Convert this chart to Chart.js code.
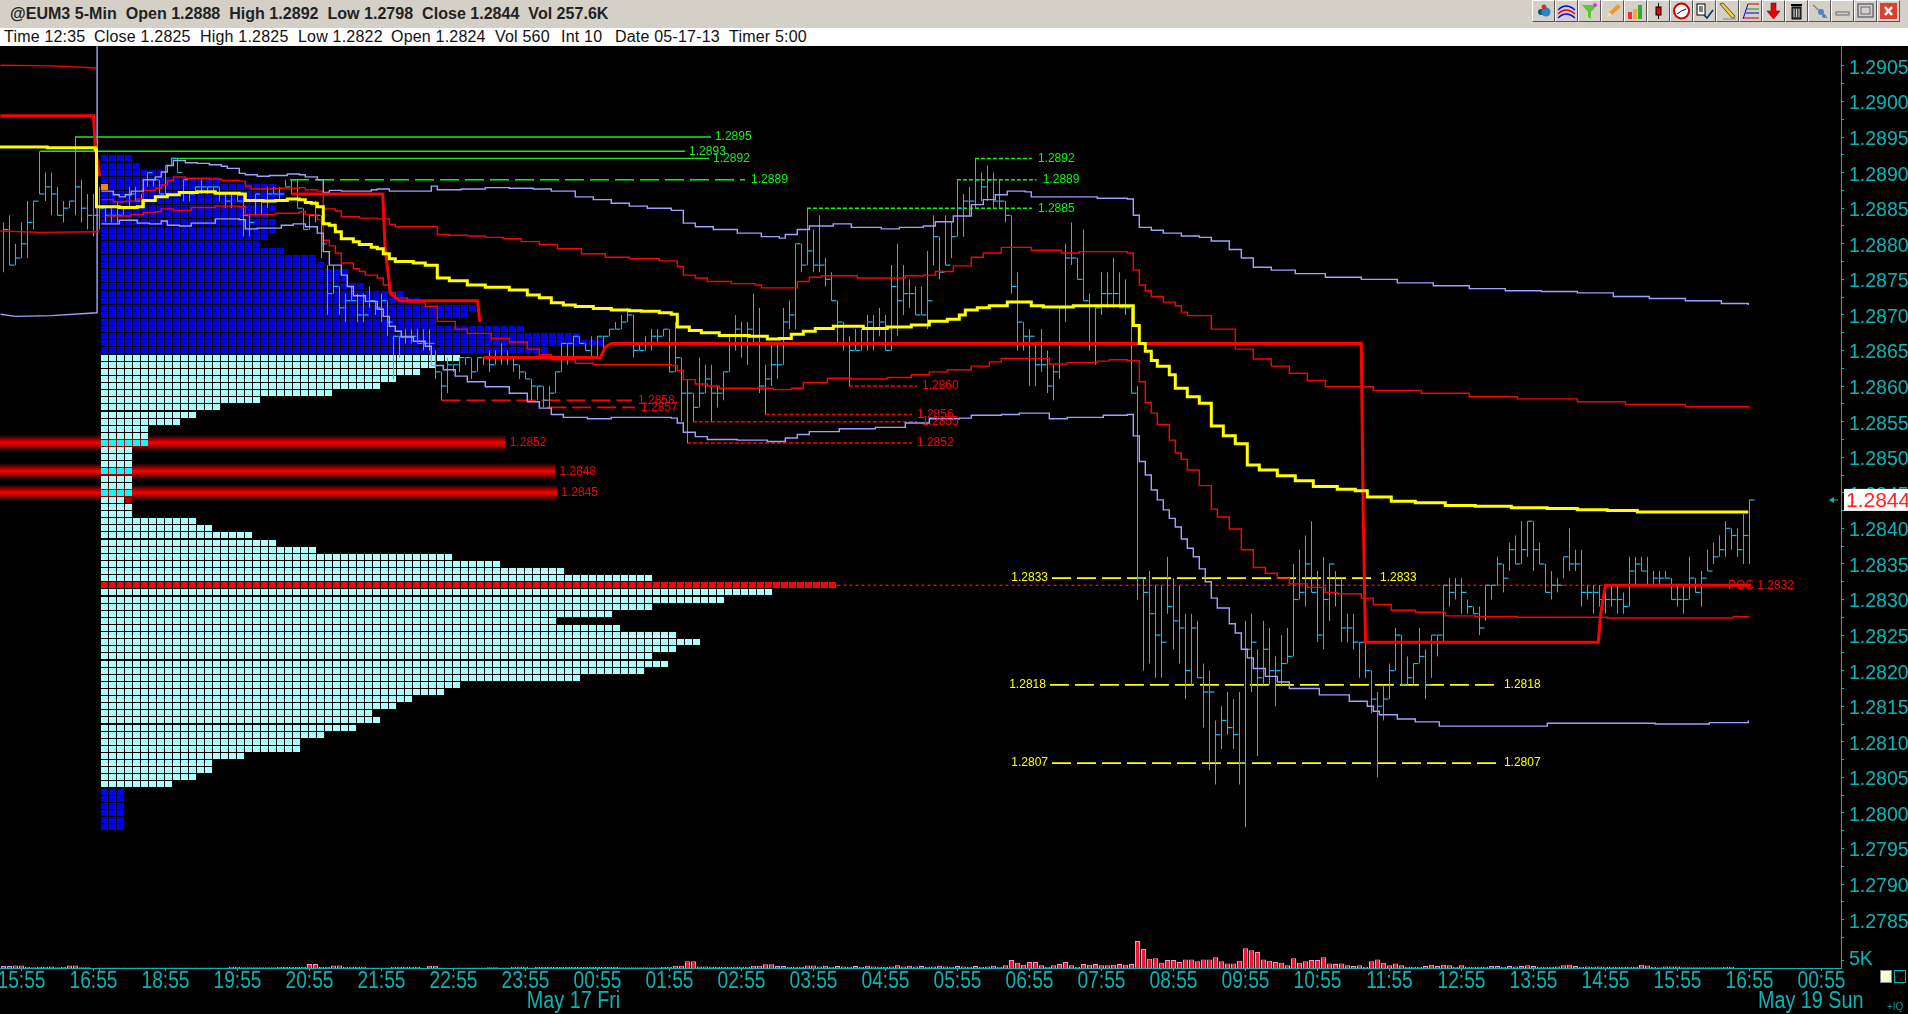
<!DOCTYPE html>
<html>
<head>
<meta charset="utf-8">
<title>@EUM3 5-Min</title>
<script src="https://cdn.jsdelivr.net/npm/chart.js@4"></script>
<style>
  html, body { margin: 0; padding: 0; background: #000; overflow: hidden; }
  #page { position: relative; width: 1908px; height: 1014px; background: #000; }
  #titlebar { position: absolute; left: 0; top: 0; width: 1908px; height: 28px; background: #d4d0c8;
    font: bold 17px "Liberation Sans", sans-serif; color: #222; line-height: 28px; }
  #titlebar .t { position: absolute; left: 10px; top: 0; white-space: pre; transform: scaleX(.945); transform-origin: left; }
  #infobar { position: absolute; left: 0; top: 28px; width: 1908px; height: 18px; background: #fff;
    font: 16px "Liberation Sans", sans-serif; color: #111; line-height: 18px; letter-spacing: .2px; }
  #infobar span { position: absolute; top: 0; white-space: pre; }
  #tools { position: absolute; left: 1532px; top: 0; display: flex; }
  #tools div { width: 21px; height: 20px; margin-right: 0; border: 1px solid; border-color: #fff #555 #555 #fff; background: #d4d0c8; }
  #tools svg { display: block; width: 21px; height: 20px; }
  #priceBox { position: absolute; left: 0; top: 46px; }
  #volBox { position: absolute; left: 0; top: 941px; }
  #boxA { position: absolute; left: 1880px; top: 970px; width: 10px; height: 11px; background: #fffbd0; border: 1px solid #888; }
  #boxB { position: absolute; left: 1894px; top: 970px; width: 10px; height: 11px; border: 1px solid #0bb4b4; }
  #iq { position: absolute; left: 1887px; top: 1001px; font: 10px "Liberation Sans", sans-serif; color: #0a9a9a; }
</style>
</head>
<body>
<div id="page">
  <div id="titlebar"><div class="t">@EUM3 5-Min  Open 1.2888  High 1.2892  Low 1.2798  Close 1.2844  Vol 257.6K</div><div id="tools"></div></div>
  <div id="infobar">
    <span style="left:4px">Time 12:35</span><span style="left:94px">Close 1.2825</span><span style="left:200px">High 1.2825</span>
    <span style="left:298px">Low 1.2822</span><span style="left:391px">Open 1.2824</span><span style="left:495px">Vol 560</span>
    <span style="left:561px">Int 10</span><span style="left:615px">Date 05-17-13</span><span style="left:729px">Timer 5:00</span>
  </div>
  <div id="priceBox"><canvas id="priceChart" width="1908" height="895"></canvas></div>
  <div id="volBox"><canvas id="volChart" width="1908" height="73"></canvas></div>
  <div id="boxA"></div><div id="boxB"></div><div id="iq">+IQ</div>
</div>
<script>
// axis labels
const priceLabels = ['1.2905','1.2900','1.2895','1.2890','1.2885','1.2880','1.2875','1.2870','1.2865','1.2860','1.2855','1.2850',
  '1.2845','1.2840','1.2835','1.2830','1.2825','1.2820','1.2815','1.2810','1.2805','1.2800','1.2795','1.2790','1.2785'];
const tickBars = [0,12,13,24,36,48,60,72,84,96,108,120,132,144,156,168,180,192,204,216,228,240,252,264,276,288,300];
const timeLabels = ['15:55','16:55','','18:55','19:55','20:55','21:55','22:55','23:55','00:55','01:55','02:55','03:55','04:55','05:55',
  '06:55','07:55','08:55','09:55','10:55','11:55','12:55','13:55','14:55','15:55','16:55','00:55'];
const dateLabels = [[92,'May 17 Fri'],[298.2,'May 19 Sun']];

// 5-min bars, first bar is number -3 (15:55 is bar 0)
const firstBar = -3;
const highs = [
1.2883,1.2884,1.2880,1.2883,1.2886,1.2886,1.2893,1.2890,1.2890,1.2888,1.2886,1.2886,1.2895,1.2889,1.2887,1.2887,1.2888,
1.2885,1.2885,1.2886,1.2885,1.2888,1.2888,1.2887,1.2890,1.2889,1.2889,1.2891,1.2892,1.2892,1.2889,1.2887,1.2888,1.2889,1.2888,1.2888,1.2888,
1.2887,1.2887,1.2887,1.2887,1.2884,1.2887,1.2886,1.2888,1.2888,1.2888,1.2889,1.2889,1.2889,1.2885,1.2884,1.2886,
1.2884,1.2877,1.2877,1.2874,1.2873,1.2874,1.2873,1.2873,1.2874,1.2872,
1.2873,1.2872,1.2867,1.2867,1.2868,1.2868,1.2868,1.2868,1.2868,1.2865,1.2862,1.2864,1.2863,1.2864,1.2864,1.2864,1.2864,1.2864,
1.2865,1.2865,1.2866,1.2865,1.2864,1.2863,1.2862,1.2861,1.2860,1.2860,1.2860,1.2862,1.2866,1.2866,1.2867,1.2867,1.2866,1.2867,1.2867,1.2867,
1.2868,1.2869,1.2870,1.2871,1.2870,1.2866,1.2867,1.2868,1.2868,1.2868,1.2868,1.2869,1.2864,1.2861,1.2859,1.2864,
1.2863,1.2863,1.2860,1.2862,1.2867,1.2870,1.2869,1.2869,1.2873,1.2871,1.2863,1.2866,1.2866,1.2871,1.2872,1.2880,1.2880,1.2885,1.2882,1.2884,
1.2878,1.2876,1.2872,1.2869,1.2867,1.2868,1.2868,1.2870,1.2870,1.2871,1.2870,1.2877,1.2880,1.2877,1.2875,1.2874,1.2874,1.2879,1.2884,1.2881,
1.2884,1.2883,1.2889,1.2887,1.2888,1.2892,1.2890,1.2891,1.2890,1.2889,1.2886,1.2884,1.2876,1.2869,1.2868,1.2866,1.2868,1.2865,1.2863,1.2871,
1.2880,1.2883,1.2878,1.2882,1.2873,1.2871,1.2876,1.2876,1.2878,1.2876,1.2875,1.2871,1.2860,
1.2833,1.2834,1.2832,1.2832,1.2836,1.2833,1.2832,1.2828,1.2828,1.2827,1.2821,1.2820,1.2813,1.2815,1.2817,1.2816,1.2817,1.2827,1.2828,1.2823,
1.2827,1.2826,1.2822,1.2825,1.2826,1.2835,1.2837,1.2839,1.2841,1.2834,1.2836,1.2835,1.2834,1.2833,1.2828,1.2828,1.2824,1.2824,1.2820,1.2817,
1.2818,1.2821,1.2826,1.2825,1.2822,1.2821,1.2826,1.2823,1.2825,1.2825,
1.2832,1.2833,1.2833,1.2833,1.2830,1.2829,1.2829,1.2832,1.2832,1.2836,1.2835,1.2838,1.2839,1.2841,1.2841,1.2841,1.2838,1.2835,1.2834,1.2833,
1.2836,1.2840,1.2837,1.2837,1.2832,1.2832,1.2832,1.2832,1.2832,1.2832,1.2831,1.2836,1.2836,1.2836,1.2836,1.2834,1.2834,1.2834,1.2833,1.2832,
1.2832,1.2836,1.2833,1.2834,1.2837,1.2838,1.2839,1.2841,1.2840,1.2840,1.2842,1.2844];
const lows = [
1.2876,1.2877,1.2877,1.2878,1.2878,1.2882,1.2887,1.2886,1.2884,1.2884,1.2883,1.2885,1.2884,1.2883,1.2882,1.2881,1.2882,
1.2883,1.2883,1.2883,1.2884,1.2885,1.2886,1.2885,1.2888,1.2888,1.2887,1.2887,1.2891,1.2890,1.2886,1.2886,1.2887,1.2887,1.2887,1.2887,1.2886,
1.2885,1.2885,1.2886,1.2881,1.2881,1.2884,1.2884,1.2885,1.2887,1.2886,1.2888,1.2887,1.2885,1.2882,1.2882,1.2883,
1.2878,1.2870,1.2873,1.2870,1.2869,1.2872,1.2869,1.2869,1.2871,1.2870,
1.2869,1.2867,1.2861,1.2864,1.2866,1.2866,1.2866,1.2865,1.2865,1.2861,1.2858,1.2859,1.2862,1.2862,1.2863,1.2861,1.2862,1.2863,
1.2862,1.2863,1.2863,1.2863,1.2862,1.2861,1.2861,1.2858,1.2858,1.2857,1.2857,1.2859,1.2862,1.2863,1.2864,1.2866,1.2865,1.2864,1.2864,
1.2865,1.2867,1.2868,1.2868,1.2869,1.2864,1.2865,1.2865,1.2865,1.2866,1.2867,1.2862,1.2862,1.2855,1.2852,1.2855,1.2857,
1.2859,1.2855,1.2857,1.2858,1.2862,1.2865,1.2864,1.2863,1.2866,1.2859,1.2856,1.2860,1.2861,1.2863,1.2868,1.2868,1.2876,1.2877,1.2876,1.2876,
1.2874,1.2872,1.2866,1.2865,1.2860,1.2865,1.2865,1.2865,1.2865,1.2867,1.2865,1.2865,1.2867,1.2870,1.2871,1.2870,1.2870,1.2868,1.2877,1.2875,
1.2877,1.2878,1.2881,1.2881,1.2884,1.2885,1.2886,1.2886,1.2885,1.2885,1.2883,1.2873,1.2865,1.2865,1.2860,1.2860,1.2862,1.2859,1.2858,1.2861,
1.2869,1.2877,1.2875,1.2872,1.2865,1.2863,1.2870,1.2871,1.2871,1.2871,1.2870,1.2859,1.2830,
1.2820,1.2821,1.2819,1.2819,1.2828,1.2823,1.2821,1.2816,1.2818,1.2819,1.2812,1.2806,1.2804,1.2809,1.2811,1.2809,1.2804,1.2798,1.2817,1.2808,
1.2818,1.2818,1.2815,1.2818,1.2821,1.2822,1.2830,1.2829,1.2831,1.2824,1.2823,1.2827,1.2829,1.2824,1.2824,1.2823,1.2819,1.2819,1.2814,1.2805,
1.2813,1.2816,1.2820,1.2818,1.2818,1.2818,1.2821,1.2816,1.2819,1.2822,
1.2824,1.2829,1.2830,1.2828,1.2828,1.2828,1.2825,1.2827,1.2830,1.2832,1.2831,1.2834,1.2835,1.2835,1.2836,1.2834,1.2835,1.2831,1.2830,1.2831,
1.2833,1.2834,1.2834,1.2829,1.2830,1.2828,1.2829,1.2828,1.2829,1.2828,1.2828,1.2829,1.2832,1.2834,1.2832,1.2832,1.2832,1.2833,1.2830,1.2829,
1.2828,1.2830,1.2831,1.2829,1.2834,1.2835,1.2836,1.2836,1.2837,1.2836,1.2835,1.2835];
const closes = [
1.2882,1.2877,1.2878,1.2880,1.2883,1.2886,1.2887,1.2888,1.2887,1.2884,1.2885,1.2886,1.2888,1.2885,1.2884,1.2884,1.2885,
1.2884,1.2884,1.2884,1.2885,1.2887,1.2886,1.2886,1.2890,1.2889,1.2887,1.2891,1.2892,1.2890,1.2889,1.2887,1.2888,1.2888,1.2888,1.2888,1.2887,
1.2886,1.2887,1.2886,1.2884,1.2883,1.2887,1.2886,1.2887,1.2887,1.2887,1.2888,1.2889,1.2885,1.2882,1.2884,1.2884,
1.2880,1.2873,1.2874,1.2871,1.2872,1.2872,1.2870,1.2870,1.2872,1.2871,
1.2872,1.2869,1.2867,1.2867,1.2867,1.2867,1.2866,1.2866,1.2866,1.2862,1.2860,1.2863,1.2863,1.2864,1.2864,1.2862,1.2864,1.2864,
1.2863,1.2864,1.2864,1.2864,1.2863,1.2862,1.2861,1.2860,1.2860,1.2858,1.2859,1.2862,1.2866,1.2866,1.2867,1.2866,1.2865,1.2864,1.2867,
1.2867,1.2868,1.2868,1.2869,1.2870,1.2865,1.2865,1.2866,1.2867,1.2867,1.2868,1.2862,1.2864,1.2859,1.2859,1.2857,1.2859,
1.2861,1.2859,1.2859,1.2862,1.2866,1.2868,1.2867,1.2868,1.2867,1.2860,1.2861,1.2863,1.2863,1.2869,1.2870,1.2880,1.2877,1.2879,1.2877,1.2877,
1.2875,1.2872,1.2869,1.2866,1.2865,1.2865,1.2866,1.2869,1.2868,1.2869,1.2865,1.2874,1.2872,1.2873,1.2873,1.2870,1.2870,1.2872,1.2881,1.2876,
1.2877,1.2881,1.2885,1.2886,1.2886,1.2889,1.2888,1.2889,1.2886,1.2886,1.2884,1.2874,1.2869,1.2867,1.2867,1.2863,1.2863,1.2860,1.2862,1.2871,
1.2878,1.2878,1.2875,1.2872,1.2866,1.2871,1.2873,1.2873,1.2873,1.2871,1.2871,1.2859,1.2833,
1.2831,1.2828,1.2825,1.2824,1.2829,1.2827,1.2826,1.2820,1.2826,1.2819,1.2817,1.2817,1.2811,1.2813,1.2812,1.2811,1.2807,1.2823,1.2824,1.2819,
1.2823,1.2820,1.2820,1.2821,1.2822,1.2830,1.2831,1.2835,1.2831,1.2825,1.2830,1.2835,1.2832,1.2826,1.2826,1.2824,1.2824,1.2820,1.2816,1.2815,
1.2816,1.2820,1.2825,1.2818,1.2819,1.2821,1.2822,1.2818,1.2825,1.2825,
1.2832,1.2831,1.2832,1.2831,1.2829,1.2828,1.2826,1.2832,1.2832,1.2835,1.2833,1.2837,1.2835,1.2837,1.2841,1.2837,1.2835,1.2831,1.2832,1.2832,
1.2836,1.2835,1.2835,1.2831,1.2831,1.2831,1.2830,1.2830,1.2830,1.2830,1.2829,1.2834,1.2835,1.2834,1.2832,1.2833,1.2833,1.2833,1.2830,1.2830,
1.2830,1.2833,1.2831,1.2833,1.2834,1.2836,1.2837,1.2840,1.2839,1.2837,1.2839,1.2844];

// volume per bar, same bar numbering
const volumes = [
1200,1200,1600,1600,800,400,800,800,1000,400,600,1600,1600,400,400,200,
300,300,300,300,300,300,300,300,300,300,300,300,300,300,300,300,300,300,300,300,300,300,
800,800,400,400,400,400,400,400,600,600,600,600,600,2500,2500,600,600,1600,1600,800,800,800,800,300,300,300,300,
800,800,800,800,800,200,1400,1400,300,200,200,300,300,300,300,300,400,400,300,300,800,800,800,300,600,600,600,600,600,600,
600,600,600,600,600,600,600,600,500,500,500,500,500,500,500,600,600,1400,1400,4200,4200,1000,1000,800,800,600,800,800,800,800,1400,1400,
2300,2300,1200,1200,800,800,800,1600,1600,1000,1400,800,1200,1000,800,1200,800,1400,1000,800,600,1000,1800,1000,1400,1000,1200,800,1000,1400,1000,800,1200,
1000,800,1200,800,1000,1400,800,
1700,5000,3300,2100,3700,3700,1700,800,1700,2500,3700,1700,800,2500,2100,2500,1700,1700,2100,2500,2100,2500,
17000,12000,5800,6200,3300,5000,5000,3700,5400,5400,4200,5400,5400,6700,4200,2900,2900,4600,12500,11200,10000,5400,4600,3700,3300,1700,
6200,3300,4200,5000,5000,6700,2900,2500,2900,1700,1200,1700,800,4200,5400,3300,1700,2900,1700,800,800,800,1200,2100,1200,2100,1700,800,
1700,800,800,800,800,1200,1200,800,1200,1000,1200,1700,1200,800,800,800,1000,1700,2100,1200,800,1000,800,1000,800,800,800,800,800,800,2100,1500,800,500,
1000,1000,1000,400,400,400,400,400,400,400,800,800];

// price profile rows, from 1.2892 down to 1.2798, number of cells per row
const profileTop = 1.2892;
const profileCounts = [4,5,8,15,22,23,22,22,21,22,22,21,20,23,27,28,31,31,33,38,40,47,46,42,53,60,63,56,
  45,42,40,37,35,29,20,15,12,10,6,6,6,4,4,4,4,4,4,4,3,4,4,12,14,19,22,27,44,50,58,69,92,84,78,69,64,57,65,72,75,72,69,71,68,60,45,43,39,37,34,35,32,28,25,25,18,14,14,12,9,
  3,3,3,3,3,3];
const valueAreaHigh = 1.2864, valueAreaLow = 1.2804;
const pocRow = 1.2832;
const bandPrices = [[1.2852,80.7],[1.2848,89],[1.2845,89.3]];

// indicator lines as [bar, price]
const vwap = [[-3.5,1.28936],[5,1.28935],[13,1.28932],[13.2,1.28852],[14,1.28852],[17,1.28851],[20,1.28852],[21,1.28861],[23,1.28866],[25,1.28869],[27,1.28872],[30,1.28873],[33,1.28871],[37,1.28870],[38,1.28861],[41,1.28860],[43,1.28861],[45,1.28863],[47,1.28862],[48,1.28858],[49,1.28857],[50,1.28852],[51,1.28828],[52,1.28826],[53,1.28817],[54,1.28807],[56,1.28803],[57,1.28799],[59,1.28795],[60,1.28793],[61,1.28786],[62,1.28779],[63,1.28775],[66,1.28773],[68,1.28770],[70,1.28752],[72,1.28748],[75,1.28742],[78,1.28739],[82,1.28735],[85,1.28728],[87,1.28724],[89,1.28717],[91,1.28714],[93,1.28712],[96,1.28709],[99,1.28707],[102,1.28706],[104,1.28705],[107,1.28703],[109,1.28701],[110,1.28683],[112,1.28678],[114,1.28675],[117,1.28671],[122,1.28670],[125,1.28666],[127,1.28667],[129,1.28673],[131,1.28677],[133,1.28681],[136,1.28684],[141,1.28681],[145,1.28683],[149,1.28686],[152,1.28691],[155,1.28694],[157,1.28700],[158,1.28707],[160,1.28710],[162,1.28713],[165,1.28718],[169,1.28713],[171,1.28711],[174,1.28711],[176,1.28713],[185,1.28713],[186,1.28685],[187,1.28660],[188,1.28649],[189,1.28636],[190,1.28628],[192,1.28616],[193,1.28597],[195,1.28585],[197,1.28576],[199,1.28544],[201,1.28530],[203,1.28519],[205,1.28489],[207,1.28482],[210,1.28474],[213,1.28467],[216,1.28459],[220,1.28455],[223,1.28453],[225,1.28444],[229,1.28438],[233,1.28436],[238,1.28432],[243,1.28431],[249,1.28429],[255,1.28428],[260,1.28426],[265,1.28425],[270,1.28423],[288.5,1.28423]];
const redUpper = [[14,1.28862],[16,1.28859],[18,1.28860],[20,1.28863],[21,1.28875],[23,1.28878],[24,1.28883],[25,1.28889],[26,1.28894],[28,1.28892],[32,1.28891],[34,1.28889],[37,1.28888],[38,1.28881],[39,1.28877],[43,1.28878],[47,1.28879],[48,1.28876],[50,1.28874],[51,1.28849],[53,1.28846],[54,1.28838],[57,1.28836],[60,1.28835],[62,1.28827],[63,1.28824],[69,1.28824],[70,1.28813],[72,1.28812],[75,1.28811],[78,1.28809],[81,1.28807],[84,1.28803],[87,1.28799],[90,1.28793],[94,1.28786],[98,1.28781],[102,1.28779],[107,1.28776],[110,1.28768],[111,1.28756],[113,1.28752],[115,1.28747],[119,1.28744],[123,1.28742],[124,1.28738],[129,1.28738],[130,1.28747],[132,1.28753],[134,1.28755],[138,1.28755],[140,1.28752],[145,1.28752],[148,1.28755],[151,1.28756],[153,1.28761],[156,1.28769],[159,1.28781],[161,1.28787],[164,1.28795],[167,1.28795],[169,1.28791],[174,1.28787],[177,1.28789],[185,1.28787],[186,1.28763],[187,1.28742],[188,1.28734],[189,1.28726],[191,1.28718],[193,1.28713],[194,1.28704],[195,1.28699],[199,1.28680],[203,1.28652],[206,1.28638],[209,1.28628],[212,1.28618],[215,1.28608],[218,1.28599],[226,1.28594],[234,1.28590],[242,1.28585],[250,1.28582],[260,1.28578],[268,1.28574],[278,1.28571],[288.5,1.28568]];
const redLower = [[15,1.28839],[19,1.28841],[21,1.28844],[23,1.28845],[24,1.28849],[26,1.28847],[29,1.28851],[33,1.28853],[37,1.28852],[38,1.28841],[41,1.28841],[43,1.28843],[47,1.28845],[48,1.28841],[50,1.28834],[51,1.28805],[52,1.28797],[53,1.28787],[54,1.28773],[56,1.28765],[57,1.28761],[58,1.28756],[60,1.28752],[61,1.28742],[62,1.28731],[63,1.28724],[65,1.28718],[68,1.28712],[70,1.28691],[73,1.28680],[75,1.28674],[79,1.28667],[82,1.28662],[85,1.28652],[87,1.28644],[89,1.28637],[93,1.28632],[96,1.28630],[103,1.28630],[109,1.28629],[110,1.28622],[111,1.28609],[113,1.28603],[115,1.28600],[117,1.28597],[122,1.28597],[126,1.28595],[129,1.28597],[131,1.28605],[135,1.28611],[139,1.28610],[145,1.28612],[149,1.28616],[152,1.28620],[155,1.28623],[159,1.28628],[162,1.28634],[164,1.28639],[167,1.28639],[172,1.28631],[175,1.28633],[180,1.28635],[182,1.28637],[185,1.28636],[187,1.28606],[188,1.28577],[189,1.28562],[190,1.28546],[192,1.28524],[193,1.28506],[194,1.28497],[195,1.28482],[197,1.28460],[199,1.28427],[200,1.28416],[202,1.28399],[204,1.28370],[206,1.28345],[208,1.28337],[210,1.28330],[212,1.28322],[215,1.28317],[218,1.28310],[220,1.28308],[224,1.28302],[226,1.28293],[229,1.28285],[233,1.28282],[238,1.28277],[243,1.28276],[250,1.28275],[260,1.28275],[265,1.28274],[280,1.28274],[286,1.28276],[288.5,1.28277]];
const lavUpper = [[14,1.28874],[16,1.28869],[17,1.28866],[18,1.28869],[19,1.28874],[20,1.28874],[21,1.28890],[23,1.28894],[24,1.28901],[25,1.28910],[26,1.28917],[28,1.28914],[30,1.28913],[32,1.28911],[34,1.28909],[35,1.28906],[37,1.28899],[38,1.28897],[40,1.28895],[42,1.28896],[45,1.28898],[47,1.28897],[48,1.28894],[50,1.28890],[51,1.28872],[52,1.28875],[54,1.28874],[59,1.28876],[60,1.28877],[62,1.28874],[63,1.28874],[69,1.28881],[70,1.28876],[74,1.28877],[78,1.28879],[82,1.28878],[86,1.28877],[89,1.28874],[93,1.28866],[96,1.28862],[99,1.28857],[102,1.28853],[105,1.28850],[109,1.28847],[111,1.28829],[113,1.28824],[116,1.28820],[120,1.28815],[124,1.28810],[127,1.28808],[128,1.28813],[130,1.28820],[132,1.28825],[136,1.28828],[139,1.28823],[144,1.28821],[147,1.28823],[151,1.28825],[153,1.28831],[156,1.28839],[159,1.28855],[161,1.28862],[163,1.28869],[165,1.28874],[168,1.28873],[169,1.28866],[176,1.28866],[180,1.28864],[185,1.28863],[186,1.28840],[187,1.28823],[189,1.28819],[191,1.28815],[194,1.28811],[197,1.28809],[199,1.28804],[202,1.28792],[204,1.28780],[206,1.28767],[209,1.28763],[213,1.28758],[218,1.28753],[224,1.28750],[230,1.28745],[236,1.28741],[242,1.28737],[248,1.28734],[254,1.28733],[260,1.28731],[266,1.28726],[272,1.28723],[278,1.28720],[284,1.28716],[288.5,1.28714]];
const lavLower = [[14,1.28828],[16,1.28828],[17,1.28833],[19,1.28833],[20,1.28829],[22,1.28828],[24,1.28832],[25,1.28826],[27,1.28825],[29,1.28829],[33,1.28835],[37,1.28834],[38,1.28821],[40,1.28822],[44,1.28826],[46,1.28828],[48,1.28824],[50,1.28815],[51,1.28789],[52,1.28770],[54,1.28756],[55,1.28740],[56,1.28727],[58,1.28719],[60,1.28708],[61,1.28698],[62,1.28684],[63,1.28677],[64,1.28669],[66,1.28663],[68,1.28656],[69,1.28629],[71,1.28623],[73,1.28614],[75,1.28606],[78,1.28599],[82,1.28590],[85,1.28578],[87,1.28569],[89,1.28560],[91,1.28556],[95,1.28554],[99,1.28556],[104,1.28556],[109,1.28555],[110,1.28548],[111,1.28535],[113,1.28529],[115,1.28525],[120,1.28524],[125,1.28522],[128,1.28527],[130,1.28532],[132,1.28536],[137,1.28540],[143,1.28542],[148,1.28548],[152,1.28554],[157,1.28555],[159,1.28559],[164,1.28560],[167,1.28562],[172,1.28554],[175,1.28556],[181,1.28559],[185,1.28560],[186,1.28530],[187,1.28494],[188,1.28475],[189,1.28454],[190,1.28440],[191,1.28426],[192,1.28414],[193,1.28402],[194,1.28385],[195,1.28372],[196,1.28360],[197,1.28343],[198,1.28325],[199,1.28302],[200,1.28288],[202,1.28266],[203,1.28253],[204,1.28230],[205,1.28218],[206,1.28203],[208,1.28192],[210,1.28184],[212,1.28175],[217,1.28166],[222,1.28157],[225,1.28150],[226,1.28143],[227,1.28138],[230,1.28132],[233,1.28128],[237,1.28122],[249,1.28122],[255,1.28126],[273,1.28125],[282,1.28127],[288.5,1.28130]];
const pocLine = [[-3.5,1.2898],[12,1.2898],[12.3,1.28935],[13,1.28895],[13,null],[45,1.2887],[60.2,1.2887],[60.6,1.28795],[61.5,1.2873],[63,1.2872],[76,1.2872],[76.4,1.2869],[76.5,null],[77,1.2864],[96.5,1.2864],[97.3,1.28655],[98.3,1.2866],[223.3,1.2866],[223.6,1.2843],[224,1.2824],[262.8,1.2824],[263.2,1.2828],[264,1.2832],[288.3,1.2832]];
const preRedTop = [[-3.5,1.29051],[5,1.29050],[12.5,1.29047]];
const preRedLow = [[-3.5,1.28818],[3,1.28816],[13,1.28817]];
const preLav = [[-3.5,1.28701],[-1,1.28698],[5,1.28699],[12.6,1.28703],[12.6,1.2908]];

// level lines as [price, from bar, to bar]
const greenSolid = [[1.2895,8.9,114.9],[1.2893,3.1,110.6],[1.2892,24.9,114.6]];
const greenDash = [[1.2889,44.75,120.6]];
const greenDot = [[1.2892,158.9,168.4],[1.2889,155.9,169.2],[1.2885,130.9,168.4]];
const redDot = [[1.2860,137.9,149.25],[1.2856,124,148.4],[1.2855,111.9,149.25],[1.2852,110.9,148.4]];
const redDash = [[1.2858,70,101.75],[1.2857,87.6,102.25]];
const yellowDash = [[1.2833,171.75,225.75],[1.2818,171.4,246.4],[1.2807,171.75,246.4]];
const pocDot = [[1.2832,136,283.75]];
const lastPrice = 1.2844;

const teal = '#0bb4b4', barBlue = '#18b8f0', lav = '#a0a0ff';
const pts = a => a.map(([x, y]) => ({ x, y }));

// one small canvas per profile cell colour
function cell(color) {
  const c = document.createElement('canvas');
  c.width = 7; c.height = 6;
  const g = c.getContext('2d');
  g.fillStyle = color; g.fillRect(0, 0, 7, 6);
  return c;
}
const cellBlue = cell('#0000f0'), cellAqua = cell('#aaffff'), cellCyan = cell('#00ffff'),
  cellRed = cell('#ff0000'), cellOrange = cell('#ff8000'), cellDark = cell('#b00000');

const rows = { blue: [], aqua: [], cyan: [], red: [], orange: [], dark: [] };
const cellStep = 8 / 6, cellStart = (104.5 - 21.5) / 6;
profileCounts.forEach((n, r) => {
  const price = +(profileTop - r * 0.0001).toFixed(4);
  for (let j = 0; j < n; j++) {
    const p = { x: cellStart + j * cellStep, y: price };
    if (price === 1.2888 && j === 0) rows.orange.push(p);
    else if (price === pocRow) rows.red.push(p);
    else if (price > valueAreaHigh || price < valueAreaLow) rows.blue.push(p);
    else if (bandPrices.some(b => b[0] === price)) rows.cyan.push(p);
    else rows.aqua.push(p);
  }
});
rows.dark.push({ x: cellStart + 3 * cellStep, y: 1.2844 });

const cellSet = (data, img) => ({ type: 'scatter', data, pointStyle: img, pointRadius: 4, order: 90, showLine: false });
// the stairs change just before the bar they were read at
const stepLine = (data, color, width, order) => ({ type: 'line', data: data.map(([x, y]) => ({ x: x - 0.7, y })), borderColor: color, borderWidth: width,
  stepped: true, pointRadius: 0, fill: false, order, spanGaps: false });
const straight = (data, color, width, order) => ({ type: 'line', data: pts(data), borderColor: color, borderWidth: width,
  pointRadius: 0, fill: false, order, spanGaps: false });
const levelSets = (list, color, width, dash) => list.map(([p, a, b]) => ({ type: 'line',
  data: [{ x: a, y: p }, { x: b, y: p }], borderColor: color, borderWidth: width, borderDash: dash, pointRadius: 0, order: 80 }));

const bandSets = bandPrices.map(([p, end]) => ({ type: 'line', data: [{ x: -3.6, y: p }, { x: end, y: p }], borderWidth: 17,
  borderCapStyle: 'butt', pointRadius: 0, order: 100,
  borderColor: c => {
    const chart = c.chart;
    if (!chart.chartArea) return '#f00';
    const y = chart.scales.y.getPixelForValue(p);
    const g = chart.ctx.createLinearGradient(0, y - 8.5, 0, y + 8.5);
    g.addColorStop(0, '#000'); g.addColorStop(0.5, '#f00'); g.addColorStop(1, '#000');
    return g;
  } }));

const barNumbers = highs.map((_, k) => firstBar + k);
// high-low sticks: one path, broken by a null after every bar
const sticks = barNumbers.flatMap((b, k) => [{ x: b, y: lows[k] }, { x: b, y: highs[k] }, { x: b, y: null }]);

// text next to the level lines, placed through the scales
const levelText = {
  id: 'levelText',
  afterDatasetsDraw(chart) {
    const { ctx, scales: { x, y } } = chart;
    ctx.save();
    ctx.font = '12px "Liberation Sans"';
    ctx.textBaseline = 'middle';
    const right = (list, color, gap) => {
      ctx.fillStyle = color; ctx.textAlign = 'left';
      list.forEach(([p, , b]) => ctx.fillText(p.toFixed(4), x.getPixelForValue(b) + gap, y.getPixelForValue(p)));
    };
    right(greenSolid, '#20e820', 4);
    right(greenDash, '#00ff00', 6);
    right(greenDot, '#00ff00', 6);
    right(redDot, '#ff0000', 5);
    right(redDash, '#ff0000', 6);
    right(yellowDash, '#ffff00', 4);
    bandPrices.forEach(([p, end]) => { ctx.fillStyle = '#ff0000'; ctx.fillText(p.toFixed(4), x.getPixelForValue(end) + 4, y.getPixelForValue(p)); });
    ctx.textAlign = 'right'; ctx.fillStyle = '#ffff00';
    yellowDash.forEach(([p, a]) => ctx.fillText(p.toFixed(4), x.getPixelForValue(a) - 4, y.getPixelForValue(p)));
    ctx.textAlign = 'left'; ctx.fillStyle = '#ff0000';
    pocDot.forEach(([p, , b]) => ctx.fillText('POC ' + p.toFixed(4), x.getPixelForValue(b) + 4, y.getPixelForValue(p)));
    ctx.restore();
  },
  afterDraw(chart) {
    // last price flag on the axis
    const { ctx, scales: { y }, chartArea } = chart;
    const py = y.getPixelForValue(lastPrice);
    ctx.save();
    ctx.fillStyle = '#fff';
    ctx.fillRect(chartArea.right + 3, py - 11, 64, 22);
    ctx.fillStyle = '#ff2020';
    ctx.font = '21px "Liberation Sans"';
    ctx.textAlign = 'left'; ctx.textBaseline = 'middle';
    ctx.fillText(lastPrice.toFixed(4), chartArea.right + 5, py + 1);
    ctx.strokeStyle = teal; ctx.fillStyle = teal; ctx.lineWidth = 1;
    ctx.beginPath(); ctx.moveTo(chartArea.right - 12, py); ctx.lineTo(chartArea.right - 7, py - 3); ctx.lineTo(chartArea.right - 7, py + 3); ctx.closePath(); ctx.fill();
    ctx.beginPath(); ctx.moveTo(chartArea.right - 8, py); ctx.lineTo(chartArea.right - 3, py); ctx.stroke();
    ctx.restore();
  }
};

const xMin = -21.5 / 6, xMax = (1841 - 21.5) / 6;
const noPad = s => { s.paddingTop = 0; s.paddingBottom = 0; s.paddingLeft = 0; s.paddingRight = 0; };

new Chart(document.getElementById('priceChart'), {
  type: 'scatter',
  data: {
    datasets: [
      ...bandSets,
      cellSet(rows.blue, cellBlue), cellSet(rows.aqua, cellAqua), cellSet(rows.cyan, cellCyan),
      cellSet(rows.red, cellRed), cellSet(rows.orange, cellOrange), cellSet(rows.dark, cellDark),
      ...levelSets(greenSolid, '#20e820', 1.4, []),
      ...levelSets(greenDash, '#00ff00', 1.6, [19, 6]),
      ...levelSets(greenDot, '#00ff00', 1.5, [4, 2]),
      ...levelSets(redDot, '#ff0000', 1.5, [4, 2]),
      ...levelSets(redDash, '#ff0000', 1.6, [19, 6]),
      ...levelSets(yellowDash, '#ffff00', 1.6, [19, 6]),
      ...levelSets(pocDot, '#ff0000', 1.4, [3, 3]),
      { type: 'line', data: sticks, borderColor: barBlue, borderWidth: 1, pointRadius: 0, spanGaps: false, fill: false, order: 70 },
      { type: 'scatter', data: barNumbers.map((b, k) => ({ x: b, y: closes[k] })), pointStyle: 'dash', pointRadius: 5,
        pointBorderColor: barBlue, pointBorderWidth: 1.2, pointBackgroundColor: barBlue, showLine: false, order: 70 },
      straight(preRedTop, '#ff0000', 1.4, 60), straight(preRedLow, '#ff0000', 1.4, 60), straight(preLav, lav, 1.4, 60),
      stepLine(lavUpper, lav, 1.4, 60), stepLine(lavLower, lav, 1.4, 60),
      stepLine(redUpper, '#ff0000', 1.4, 60), stepLine(redLower, '#ff0000', 1.4, 60),
      straight(pocLine, '#ff0000', 3, 55),
      stepLine(vwap, '#ffff00', 3, 50)
    ]
  },
  options: {
    responsive: false,
    animation: false,
    events: [],
    layout: { autoPadding: false, padding: 0 },
    plugins: { legend: { display: false }, tooltip: { enabled: false } },
    scales: {
      x: {
        type: 'linear', min: xMin, max: xMax, offset: false,
        ticks: { display: false },
        grid: { drawOnChartArea: false, drawTicks: false },
        border: { color: teal, width: 1 },
        afterFit: s => { s.height = 0; noPad(s); }
      },
      y: {
        position: 'right', min: 1.2782, max: 1.29078,
        afterBuildTicks: s => {
          const t = [];
          priceLabels.forEach(v => { t.push({ value: +v }); t.push({ value: +v - 0.00025 }); });
          s.ticks = t;
        },
        afterFit: s => { s.width = 67; noPad(s); },
        ticks: {
          color: teal, padding: 5, labelOffset: 2.5, autoSkip: false, font: { family: 'Liberation Sans', size: 19.5 },
          callback: v => priceLabels.includes(v.toFixed(4)) ? v.toFixed(4) : ''
        },
        grid: { drawOnChartArea: false, tickLength: 3, color: teal },
        border: { color: teal, width: 1 }
      }
    }
  },
  plugins: [levelText]
});

// the hour labels and dates are condensed, so the x axis writes them here
const narrowText = {
  id: 'narrowText',
  afterDraw(chart) {
    const { ctx, scales: { x } } = chart;
    const put = (s, px, py, sx) => {
      ctx.save();
      ctx.translate(px, py);
      ctx.scale(sx, 1);
      ctx.fillText(s, 0, 0);
      ctx.restore();
    };
    ctx.save();
    ctx.font = '23px "Liberation Sans"';
    ctx.fillStyle = teal; ctx.textAlign = 'center'; ctx.textBaseline = 'middle';
    x.ticks.forEach(t => put(t.label, x.getPixelForValue(t.value), 41, 0.83));
    dateLabels.forEach(([b, s]) => put(s, x.getPixelForValue(b), 61, 0.86));
    ctx.restore();
  }
};

new Chart(document.getElementById('volChart'), {
  type: 'bar',
  data: {
    datasets: [{ data: barNumbers.map((b, k) => ({ x: b, y: volumes[k] })), backgroundColor: '#ff1030', borderColor: '#ff90e0',
      borderWidth: 1, barThickness: 5, grouped: false, inflateAmount: 0 }]
  },
  options: {
    responsive: false,
    animation: false,
    events: [],
    layout: { autoPadding: false, padding: 0 },
    plugins: { legend: { display: false }, tooltip: { enabled: false } },
    scales: {
      x: {
        type: 'linear', min: xMin, max: xMax, position: 'bottom', offset: false,
        afterBuildTicks: s => { s.ticks = tickBars.map(v => ({ value: v })); },
        afterFit: s => { s.height = 46; noPad(s); },
        ticks: {
          color: 'rgba(0,0,0,0)', autoSkip: false, maxRotation: 0, minRotation: 0,
          callback: v => timeLabels[tickBars.indexOf(v)]
        },
        grid: { drawOnChartArea: false, tickLength: 3, color: teal, offset: false },
        border: { color: teal, width: 1 }
      },
      y: {
        position: 'right', min: 0, max: 17000,
        afterBuildTicks: s => { s.ticks = [{ value: 5000 }]; },
        afterFit: s => { s.width = 67; noPad(s); },
        ticks: { color: teal, padding: 5, font: { family: 'Liberation Sans', size: 19.5 }, callback: () => '5K' },
        grid: { drawOnChartArea: false, tickLength: 3, color: teal },
        border: { color: teal, width: 1 }
      }
    }
  },
  plugins: [narrowText]
});

// toolbar glyphs
const toolIcons = [
  '<circle cx="8" cy="11" r="3" fill="#156"/><circle cx="13" cy="11" r="4.5" fill="#28c"/><circle cx="11" cy="6" r="2.5" fill="#c33"/>',
  '<g fill="none" stroke-width="1.2"><path d="M2 9Q10 1 19 9" stroke="#00f"/><path d="M2 13Q10 5 19 13" stroke="#e00"/><path d="M2 17Q10 9 19 17" stroke="#00f"/></g>',
  '<path d="M3 4H18L12 11V18L9 16V11Z" fill="#5c3"/><circle cx="16" cy="4" r="2" fill="#d3d"/>',
  '<path d="M4 17L7 11L16 3L19 6L10 14Z" fill="#e93"/><path d="M4 17L7 11L10 14Z" fill="#fdb"/>',
  '<rect x="3" y="11" width="4" height="7" fill="#e33"/><rect x="8" y="8" width="4" height="10" fill="#ea3"/><rect x="13" y="4" width="4" height="14" fill="#3a3"/>',
  '<path d="M10.5 2V18" stroke="#000"/><rect x="8" y="6" width="5" height="8" fill="#e00" stroke="#000"/>',
  '<circle cx="10.5" cy="10" r="7.5" fill="#fff" stroke="#c00" stroke-width="2"/><path d="M10.5 10L6 13M10.5 10L15 8" stroke="#006"/>',
  '<rect x="3" y="3" width="8" height="11" fill="#fff" stroke="#000"/><path d="M5 6H9M5 8H9M5 10H9" stroke="#000"/><path d="M10 14L13 17L19 9" fill="none" stroke="#036" stroke-width="1.5"/>',
  '<path d="M3 3L6 2L18 15L17 17L15 17Z" fill="#ec3" stroke="#222" stroke-width=".7"/><path d="M6 18H19" stroke="#888"/>',
  '<path d="M3 18L8 3" stroke="#00c"/><path d="M8 3H19" stroke="#c00"/><path d="M7 8H19" stroke="#0a0"/><path d="M6 12H19" stroke="#00c"/><path d="M4 17H19" stroke="#c00"/>',
  '<path d="M8 2H13V10H17L10.5 18L4 10H8Z" fill="#e00" stroke="#400" stroke-width=".5"/>',
  '<rect x="6" y="6" width="9" height="12" fill="#444" stroke="#000"/><path d="M5 4H16" stroke="#000" stroke-width="2"/><path d="M8 8V16M10.5 8V16M13 8V16" stroke="#ccc"/>',
  '<path d="M4 4L18 17" stroke="#789" stroke-width="1.5"/><circle cx="12" cy="11" r="3" fill="#48c"/><circle cx="15" cy="15" r="2" fill="#48c"/>',
  '<rect x="4" y="11" width="13" height="3" fill="#d4d0c8" stroke="#667"/>',
  '<rect x="3" y="3" width="15" height="13" fill="none" stroke="#667" stroke-width="1.4"/><rect x="6" y="6" width="9" height="7" fill="none" stroke="#667"/>'
];
const tools = document.getElementById('tools');
toolIcons.concat('<rect x="2" y="2" width="17" height="16" fill="#d84030"/><path d="M7 6L14 14M14 6L7 14" stroke="#fff" stroke-width="2.6"/>').forEach(svg => {
  const d = document.createElement('div');
  d.innerHTML = '<svg viewBox="0 0 21 20">' + svg + '</svg>';
  tools.appendChild(d);
});
</script>
</body>
</html>
